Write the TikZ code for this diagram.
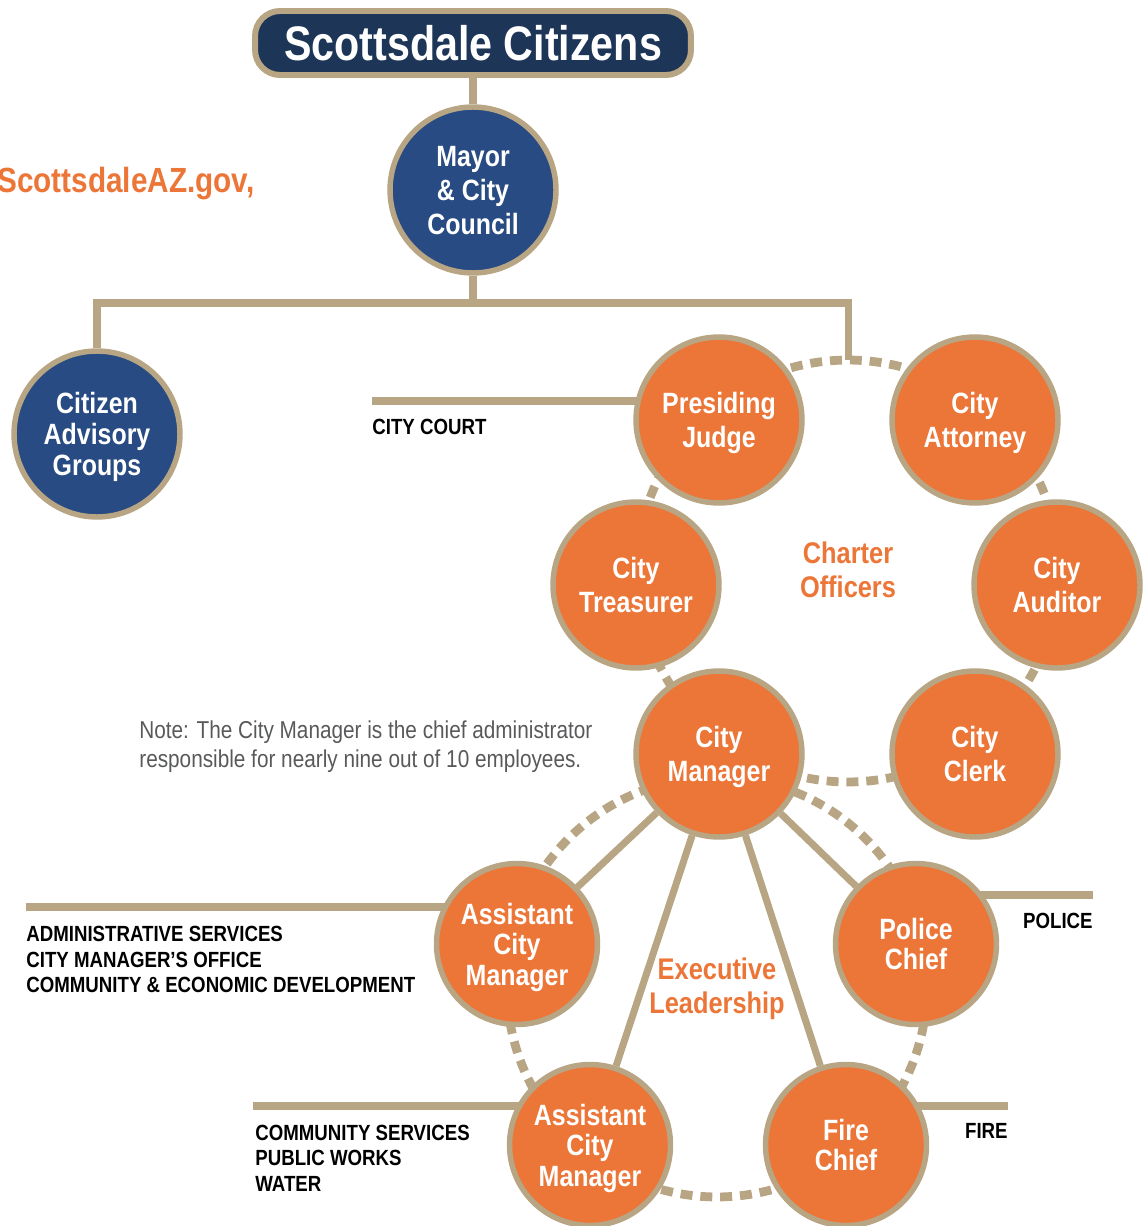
\documentclass[tikz,border=0pt]{standalone}
\usepackage{fontspec}
\setmainfont{Liberation Sans}[FakeStretch=0.85]
\usetikzlibrary{shapes,backgrounds,calc}
\definecolor{cNavy}{HTML}{1D3657}
\definecolor{cBlue}{HTML}{274B82}
\definecolor{cOrange}{HTML}{EC7638}
\definecolor{cTan}{HTML}{B8A584}
\definecolor{cGray}{HTML}{58595B}
\tikzset{
  orgnode/.style = {align=center, inner sep=0pt, text centered, text depth=0pt, white, font=\bfseries\fontsize{16.7}{19.3}\selectfont},
  org_b/.style = {orgnode, circle, draw=cTan, line width=3.1pt, fill=cBlue, minimum size=3.32cm},
  org_o/.style = {orgnode, circle, draw=cTan, line width=3.1pt, fill=cOrange, minimum size=3.32cm},
  org_s/.style = {org_o, minimum size=3.22cm, font=\bfseries\fontsize{16.7}{17.4}\selectfont},
  org_t/.style = {orgnode, rectangle, rounded corners=0.5cm, draw=cTan, line width=3.4pt, fill=cNavy, minimum width=8.72cm, minimum height=1.28cm, font=\bfseries\fontsize{27.6}{30}\selectfont},
  link/.style = {draw=cTan, line width=4pt},
  ring/.style = {draw=cTan, line width=5pt, dash pattern=on 6.8pt off 4.5pt},
  dept/.style = {align=left, inner sep=0pt, font=\bfseries\fontsize{12.5}{14.5}\selectfont},
  hdr/.style = {align=center, inner sep=0pt, cOrange, font=\bfseries\fontsize{17}{19.3}\selectfont}
}

\begin{document}
\begin{tikzpicture}[x=0.02cm,y=-0.02cm]
\useasboundingbox (0,0) rectangle (1142,1226);

\node [org_t] (cit) at (473,43) {Scottsdale Citizens};
\node [org_b] (may) at (473,190) {Mayor\\\& City\\Council};
\node [org_b, font=\bfseries\fontsize{16.7}{17.6}\selectfont] (cag) at (97,434) {Citizen\\Advisory\\Groups};
\node [hdr, anchor=west, font=\bfseries\fontsize{19.9}{22}\selectfont] (web) at (-3,184) {ScottsdaleAZ.gov,};

\coordinate (chc) at (848,571);
\coordinate (chtop) at (848,360);
\node [org_o] (pjd) at (719,420) {Presiding\\Judge};
\node [org_o] (att) at (975,420) {City\\Attorney};
\node [org_o] (trs) at (636,585) {City\\Treasurer};
\node [org_o] (aud) at (1057,585) {City\\Auditor};
\node [org_o] (mgr) at (719,754) {City\\Manager};
\node [org_o] (clk) at (975,754) {City\\Clerk};
\node [hdr] (cho) at (848,570) {Charter\\Officers};

\coordinate (exc) at (717,987);
\node [org_s] (acm1) at (517,944) {Assistant\\City\\Manager};
\node [org_s] (pol) at (916,944) {Police\\Chief};
\node [org_s] (acm2) at (590,1145) {Assistant\\City\\Manager};
\node [org_s] (fir) at (846,1145) {Fire\\Chief};
\node [hdr] (exl) at (717,989) {Executive\\Leadership};

\node [dept, anchor=west] (ct_l) at (372,427) {CITY COURT};
\node [dept, anchor=west] (ad_l) at (26,959.5) {ADMINISTRATIVE SERVICES\\CITY MANAGER’S OFFICE\\COMMUNITY \& ECONOMIC DEVELOPMENT};
\node [dept, anchor=west] (cs_l) at (255,1158) {COMMUNITY SERVICES\\PUBLIC WORKS\\WATER};
\node [dept, anchor=east] (po_l) at (1093,921) {POLICE};
\node [dept, anchor=east] (fi_l) at (1008,1131) {FIRE};
\node [align=left, inner sep=0pt, anchor=west, cGray, font=\fontsize{13.9}{16.4}\selectfont] (note) at (139,746.5) {Note: The City Manager is the chief administrator\\responsible for nearly nine out of 10 employees.};

\begin{scope}[on background layer]
\coordinate (jn) at (473,303);
\draw [link] (cit) -- (may);
\draw [link] (may) -- (jn) -| (cag);
\draw [link] (jn) -| (chtop);
\draw [ring] (chc) circle [radius=4.22cm];
\draw [ring] (exc) circle [radius=4.2cm];
\draw [link] (mgr) -- (acm1);
\draw [link] (mgr) -- (pol);
\draw [link] (mgr) -- (acm2);
\draw [link] (mgr) -- (fir);
\coordinate (ct) at (372,401);
\coordinate (ad) at (26,907);
\coordinate (cs) at (253,1106);
\coordinate (po) at (1093,895);
\coordinate (fi) at (1008,1106);
\draw [link] (ct) -- (ct -| pjd);
\draw [link] (ad) -- (ad -| acm1);
\draw [link] (cs) -- (cs -| acm2);
\draw [link] (po) -- (po -| pol);
\draw [link] (fi) -- (fi -| fir);
\end{scope}
\end{tikzpicture}
\end{document}
